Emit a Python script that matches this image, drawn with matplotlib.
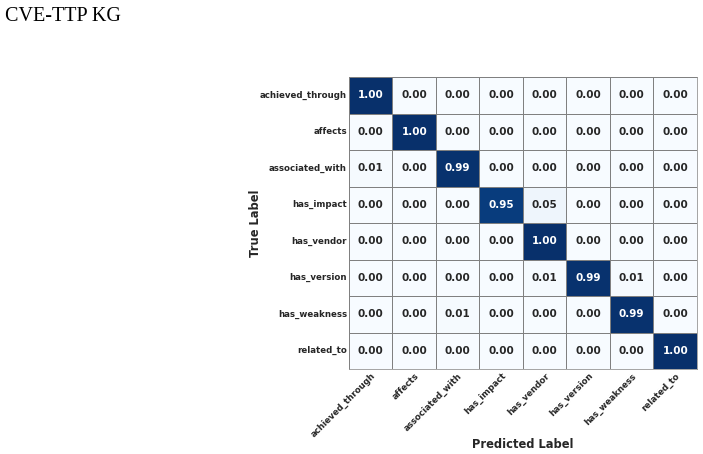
import numpy as np
import matplotlib
matplotlib.use("Agg")
import matplotlib.pyplot as plt
import seaborn as sns

labels = ["achieved_through", "affects", "associated_with", "has_impact",
          "has_vendor", "has_version", "has_weakness", "related_to"]

row_achieved = [1.00, 0.00, 0.00, 0.00, 0.00, 0.00, 0.00, 0.00]
row_affects = [0.00, 1.00, 0.00, 0.00, 0.00, 0.00, 0.00, 0.00]
row_associated = [0.01, 0.00, 0.99, 0.00, 0.00, 0.00, 0.00, 0.00]
row_impact = [0.00, 0.00, 0.00, 0.95, 0.05, 0.00, 0.00, 0.00]
row_vendor = [0.00, 0.00, 0.00, 0.00, 1.00, 0.00, 0.00, 0.00]
row_version = [0.00, 0.00, 0.00, 0.00, 0.01, 0.99, 0.01, 0.00]
row_weakness = [0.00, 0.00, 0.01, 0.00, 0.00, 0.00, 0.99, 0.00]
row_related = [0.00, 0.00, 0.00, 0.00, 0.00, 0.00, 0.00, 1.00]

cm = np.array([row_achieved, row_affects, row_associated, row_impact,
               row_vendor, row_version, row_weakness, row_related])

fig = plt.figure(figsize=(7.03, 4.54), dpi=100)
ax = fig.add_axes([0.4964, 0.187, 0.495, 0.643])

sns.heatmap(cm, ax=ax, cmap="Blues", vmin=0, vmax=1, cbar=False,
            annot=True, fmt=".2f", linewidths=0.5, linecolor="gray",
            annot_kws={"size": 7.5, "weight": "bold"},
            xticklabels=labels, yticklabels=labels)

for t in ax.texts:
    if t.get_color() != "w" and t.get_color() != "white":
        t.set_color("#262626")

ax.set_xticklabels(labels, rotation=45, ha="right", rotation_mode="anchor",
                   fontsize=6.2, fontweight="bold", color="#262626")
ax.set_yticklabels(labels, rotation=0, fontsize=6.2, fontweight="bold",
                   color="#262626")
ax.tick_params(length=0, pad=1.5)
ax.set_xlabel("Predicted Label", fontsize=8.3, fontweight="bold",
              color="#262626")
ax.set_ylabel("True Label", fontsize=8.3, fontweight="bold", color="#262626")
ax.xaxis.set_label_coords(0.5, -0.235)
ax.yaxis.set_label_coords(-0.25, 0.5)
for s in ax.spines.values():
    s.set_visible(True)
    s.set_color("gray")
    s.set_linewidth(0.5)

fig.text(0.007, 0.985, "CVE-TTP KG", fontsize=14.5, family="Liberation Serif",
         ha="left", va="top")

fig.savefig("out.png", dpi=100)
